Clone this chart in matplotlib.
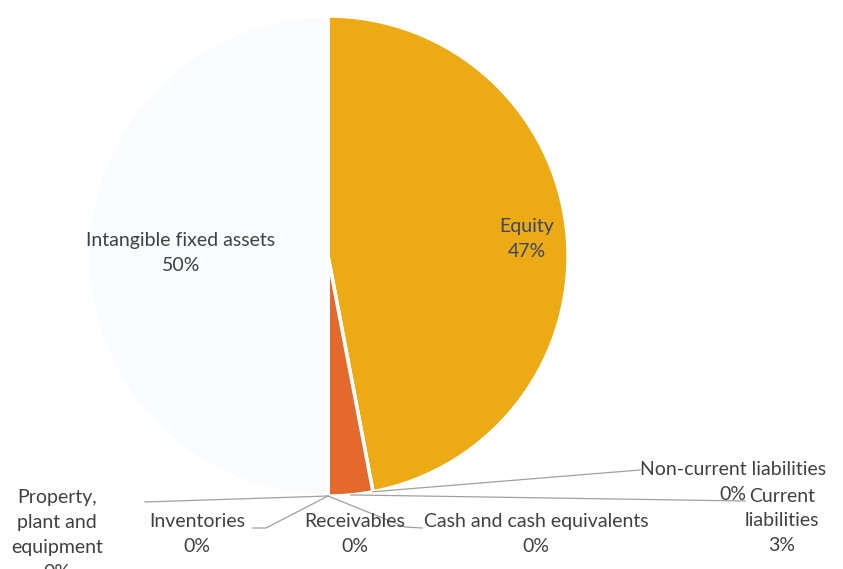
import numpy as np
import matplotlib
matplotlib.use("Agg")
import matplotlib.pyplot as plt

# slices, clockwise from 12 o'clock
labels = ["Equity", "Non-current liabilities", "Current liabilities",
          "Cash and cash equivalents", "Receivables", "Inventories",
          "Property, plant and equipment", "Intangible fixed assets"]
values = [47, 0, 3, 0, 0, 0, 0, 50]
pct_text = ["47%", "0%", "3%", "0%", "0%", "0%", "0%", "50%"]
colors = ["#ecaa14", "#a5a5a5", "#e36a2c", "#5b9bd5", "#70ad47",
          "#264478", "#9e480e", "#fafbfd"]
explode = [0.025, 0, 0, 0, 0, 0, 0, 0]

W, H = 843, 569
cx, cy, R = 328, 256, 240   # pixel coords, y down


def px(x, y):
    return x, H - y


fig = plt.figure(figsize=(W / 100, H / 100), dpi=100)
ax = fig.add_axes([0, 0, 1, 1])
wedges, _ = ax.pie(values, colors=colors, startangle=90, counterclock=False,
                   explode=explode, radius=R, center=px(cx, cy),
                   wedgeprops=dict(edgecolor="white", linewidth=2.5))
ax.set_xlim(0, W)
ax.set_ylim(0, H)
ax.set_aspect("equal")
ax.axis("off")

plt.rcParams["font.family"] = ["Lato", "DejaVu Sans"]
fs = 14
grey = "#404040"


def anchor(i):
    w = wedges[i]
    t = np.deg2rad((w.theta1 + w.theta2) / 2)
    x0, y0 = w.center
    return x0 + R * np.cos(t), y0 + R * np.sin(t)


names = labels[:]
names[1] = "Non-current liabilities"
names[2] = "Current\nliabilities"
names[6] = "Property,\nplant and\nequipment"
# label block centres in pixels
lab_pos = [(527, 239), (733, 482), (782, 521), (536, 534),
           (355, 534), (197, 534), (57, 535), (181, 253)]

for i, name in enumerate(names):
    c = "#3d4470" if i == 0 else grey
    ax.text(*px(*lab_pos[i]), name + "\n" + pct_text[i], ha="center",
            va="center", fontsize=fs, color=c, linespacing=1.55)

# leader lines for the small slices
leaders = {
    1: [(640, 470)],
    2: [(745, 501)],
    3: [(405, 527), (422, 528)],
    5: [(266, 528), (253, 528)],
    6: [(145, 502)],
}
for i, pts in leaders.items():
    ax_, ay_ = anchor(i)
    xs = [ax_] + [p[0] for p in pts]
    ys = [ay_] + [H - p[1] for p in pts]
    ax.plot(xs, ys, color="#a0a0a0", lw=0.9)

fig.savefig("out.png", dpi=100)
